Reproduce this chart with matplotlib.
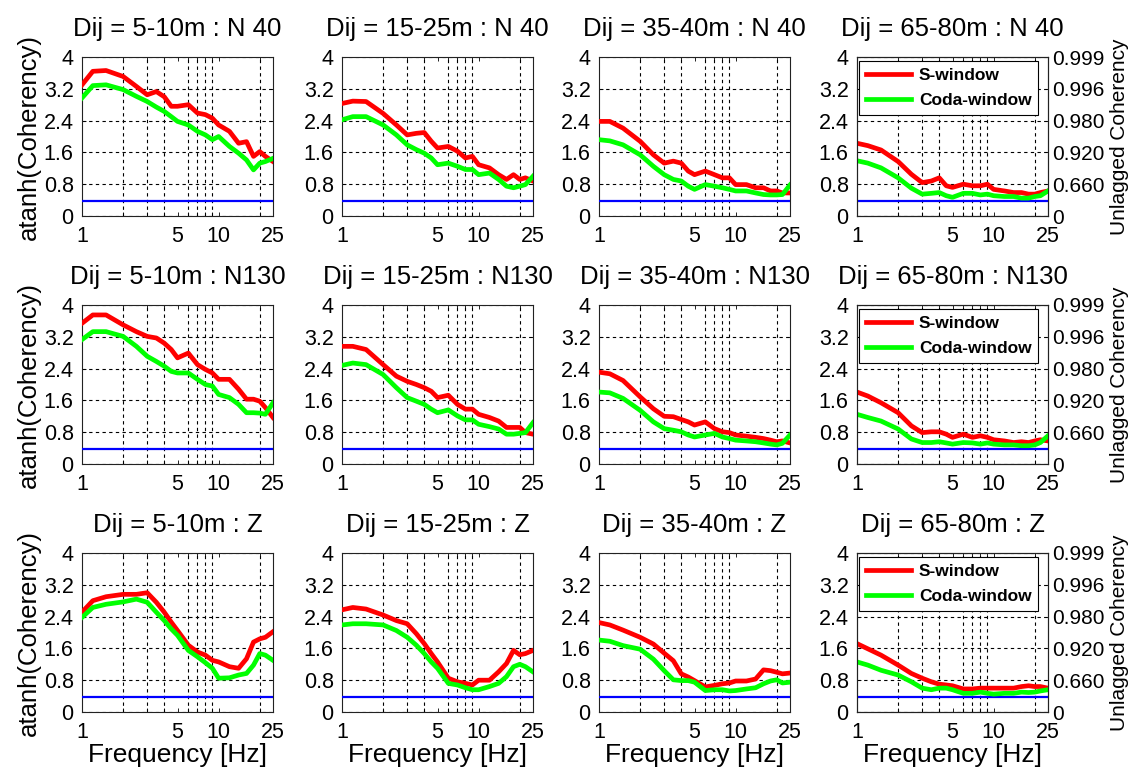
##########################################################################
import matplotlib
matplotlib.use('Agg')
import matplotlib.pyplot as plt
from matplotlib.ticker import FixedLocator, NullFormatter
import numpy as np
##########################################################################
#
#                      GENERAL
#
##########################################################################
plt.rcParams['font.family'] = ['Liberation Sans', 'DejaVu Sans']
plt.rcParams['font.size'] = 15

W, H = 1132, 777
rs   = 100

# axes boxes in pixels (left edges per column, top edges per row)
col_x = [82, 342, 599, 857]
row_y = [57, 305, 553]
ax_w, ax_h = 191, 159

# Legend, labels
legnd = ['S-window', 'Coda-window']
xn, yn, yn2 = 'Frequency [Hz]', 'atanh(Coherency)', 'Unlagged Coherency'
dist  = ['5-10m', '15-25m', '35-40m', '65-80m']
comp  = ['N 40', 'N130', 'Z']

# Axises
ymin, ymax = 0, 4
y_lim   = [0, 0.8, 1.6, 2.4, 3.2, 4]
y_lab   = ['0', '0.8', '1.6', '2.4', '3.2', '4']
y2_lab  = ['0', '0.660', '0.920', '0.980', '0.996', '0.999']
xmin, xmax = 1, 25
x_lim   = [1, 5, 10, 25]
x_lab   = ['1', '5', '10', '25']
x_minor = [2, 3, 4, 5, 6, 7, 8, 9, 10, 20]

# significance level
thr = 0.37

##########################################################################
#
#                      DATA
#
##########################################################################
freq = [1, 1.2, 1.5, 2, 2.5, 3, 3.5, 4, 4.5, 5, 6, 7, 8, 9, 10,
        12, 14, 16, 18, 20, 22, 25]

# N 40
s_n40_d1 = [3.30, 3.64, 3.66, 3.51, 3.26, 3.05, 3.13, 3.00, 2.76, 2.76, 2.80,
            2.59, 2.55, 2.46, 2.29, 2.13, 1.83, 1.87, 1.50, 1.62, 1.50, 1.37]
c_n40_d1 = [2.97, 3.28, 3.30, 3.18, 3.01, 2.88, 2.74, 2.63, 2.50, 2.38, 2.29,
            2.13, 2.04, 1.92, 2.00, 1.75, 1.58, 1.41, 1.16, 1.33, 1.37, 1.45]
s_n40_d2 = [2.83, 2.89, 2.88, 2.58, 2.29, 2.04, 2.08, 2.10, 1.88, 1.71, 1.75,
            1.63, 1.46, 1.50, 1.29, 1.21, 1.04, 0.92, 1.04, 0.92, 0.96, 0.88]
c_n40_d2 = [2.42, 2.50, 2.50, 2.29, 2.04, 1.79, 1.67, 1.58, 1.46, 1.29, 1.33,
            1.25, 1.17, 1.17, 1.04, 1.08, 0.92, 0.75, 0.71, 0.75, 0.79, 1.00]
s_n40_d3 = [2.38, 2.38, 2.21, 1.88, 1.54, 1.33, 1.38, 1.33, 1.13, 1.04, 1.13,
            1.04, 0.96, 0.96, 0.79, 0.79, 0.71, 0.71, 0.63, 0.63, 0.58, 0.58]
c_n40_d3 = [1.92, 1.89, 1.79, 1.54, 1.25, 1.04, 0.92, 0.88, 0.75, 0.67, 0.79,
            0.75, 0.71, 0.67, 0.63, 0.63, 0.58, 0.54, 0.53, 0.53, 0.54, 0.78]
s_n40_d4 = [1.83, 1.77, 1.66, 1.37, 1.05, 0.84, 0.88, 0.96, 0.76, 0.72, 0.80,
            0.76, 0.76, 0.80, 0.67, 0.63, 0.59, 0.59, 0.55, 0.55, 0.59, 0.63]
c_n40_d4 = [1.39, 1.33, 1.21, 0.96, 0.70, 0.55, 0.57, 0.59, 0.51, 0.47, 0.57,
            0.57, 0.53, 0.55, 0.51, 0.49, 0.49, 0.45, 0.45, 0.49, 0.51, 0.63]

# N130
s_n130_d1 = [3.54, 3.75, 3.75, 3.50, 3.33, 3.21, 3.17, 3.04, 2.88, 2.67, 2.79,
             2.50, 2.38, 2.29, 2.13, 2.13, 1.88, 1.63, 1.63, 1.58, 1.42, 1.17]
c_n130_d1 = [3.13, 3.33, 3.33, 3.21, 2.96, 2.71, 2.58, 2.46, 2.33, 2.29, 2.29,
             2.13, 2.00, 1.96, 1.75, 1.67, 1.50, 1.29, 1.29, 1.28, 1.25, 1.54]
s_n130_d2 = [2.96, 2.96, 2.88, 2.50, 2.21, 2.08, 2.00, 1.92, 1.83, 1.67, 1.73,
             1.50, 1.38, 1.38, 1.25, 1.17, 1.08, 0.92, 0.92, 0.92, 0.79, 0.75]
c_n130_d2 = [2.48, 2.54, 2.50, 2.25, 1.92, 1.67, 1.58, 1.50, 1.38, 1.29, 1.36,
             1.21, 1.11, 1.11, 1.00, 0.94, 0.88, 0.75, 0.75, 0.77, 0.79, 1.04]
s_n130_d3 = [2.31, 2.27, 2.10, 1.69, 1.39, 1.20, 1.19, 1.12, 1.06, 0.98, 1.06,
             0.89, 0.81, 0.79, 0.73, 0.70, 0.67, 0.64, 0.60, 0.56, 0.58, 0.53]
c_n130_d3 = [1.81, 1.79, 1.65, 1.35, 1.06, 0.89, 0.85, 0.81, 0.73, 0.68, 0.73,
             0.77, 0.68, 0.64, 0.60, 0.58, 0.56, 0.53, 0.50, 0.48, 0.52, 0.73]
s_n130_d4 = [1.81, 1.71, 1.54, 1.29, 0.96, 0.79, 0.81, 0.81, 0.75, 0.67, 0.75,
             0.67, 0.71, 0.67, 0.61, 0.58, 0.54, 0.56, 0.54, 0.58, 0.61, 0.58]
c_n130_d4 = [1.25, 1.17, 1.08, 0.88, 0.63, 0.54, 0.54, 0.56, 0.53, 0.50, 0.54,
             0.53, 0.50, 0.53, 0.50, 0.48, 0.48, 0.46, 0.46, 0.48, 0.54, 0.71]

# Z
s_z_d1 = [2.51, 2.80, 2.90, 2.96, 2.96, 3.00, 2.76, 2.51, 2.26, 2.05, 1.68,
          1.51, 1.43, 1.30, 1.26, 1.14, 1.10, 1.34, 1.76, 1.84, 1.88, 2.02]
c_z_d1 = [2.38, 2.63, 2.71, 2.77, 2.84, 2.76, 2.51, 2.30, 2.09, 1.93, 1.55,
          1.39, 1.24, 1.10, 0.85, 0.86, 0.93, 0.97, 1.18, 1.47, 1.43, 1.30]
s_z_d2 = [2.57, 2.63, 2.59, 2.44, 2.30, 2.22, 1.97, 1.72, 1.47, 1.26, 0.85,
          0.76, 0.72, 0.68, 0.80, 0.80, 1.01, 1.22, 1.55, 1.44, 1.47, 1.55]
c_z_d2 = [2.19, 2.22, 2.22, 2.19, 2.05, 1.88, 1.68, 1.47, 1.26, 1.10, 0.72,
          0.68, 0.61, 0.56, 0.56, 0.64, 0.72, 0.89, 1.14, 1.20, 1.14, 1.01]
s_z_d3 = [2.25, 2.19, 2.06, 1.88, 1.71, 1.48, 1.29, 0.96, 0.88, 0.79, 0.63,
          0.67, 0.71, 0.73, 0.78, 0.78, 0.83, 1.06, 1.04, 1.00, 0.96, 0.98]
c_z_d3 = [1.81, 1.78, 1.67, 1.58, 1.33, 1.04, 0.81, 0.79, 0.79, 0.75, 0.54,
          0.56, 0.56, 0.53, 0.54, 0.58, 0.61, 0.71, 0.78, 0.81, 0.73, 0.75]
s_z_d4 = [1.72, 1.59, 1.43, 1.18, 0.97, 0.85, 0.76, 0.70, 0.68, 0.66, 0.58,
          0.58, 0.60, 0.60, 0.60, 0.60, 0.60, 0.64, 0.66, 0.64, 0.64, 0.60]
c_z_d4 = [1.26, 1.18, 1.05, 0.93, 0.76, 0.60, 0.56, 0.60, 0.60, 0.56, 0.47,
          0.47, 0.50, 0.47, 0.45, 0.47, 0.47, 0.50, 0.49, 0.50, 0.53, 0.56]

s_win = [[s_n40_d1, s_n40_d2, s_n40_d3, s_n40_d4],
         [s_n130_d1, s_n130_d2, s_n130_d3, s_n130_d4],
         [s_z_d1, s_z_d2, s_z_d3, s_z_d4]]
c_win = [[c_n40_d1, c_n40_d2, c_n40_d3, c_n40_d4],
         [c_n130_d1, c_n130_d2, c_n130_d3, c_n130_d4],
         [c_z_d1, c_z_d2, c_z_d3, c_z_d4]]

##########################################################################
#
#                      PLOTTING
#
##########################################################################
figr = plt.figure(figsize=(W/rs, H/rs), dpi=rs)

grid_kw = dict(color='k', linestyle=(0, (3, 3)), linewidth=0.8)

for i in range(3):
    for j in range(4):
        l = col_x[j] / W
        b = 1 - (row_y[i] + ax_h) / H
        ax = figr.add_axes([l, b, ax_w / W, ax_h / H])

        ax.set_xscale('log')
        ax.set_xlim(xmin, xmax)
        ax.set_ylim(ymin, ymax)

        ax.xaxis.set_major_locator(FixedLocator(x_lim))
        ax.set_xticklabels(x_lab)
        ax.xaxis.set_minor_locator(FixedLocator(x_minor))
        ax.xaxis.set_minor_formatter(NullFormatter())
        ax.set_yticks(y_lim)
        ax.set_yticklabels(y_lab)
        ax.tick_params(which='both', direction='in', top=True,
                       right=(j != 3), length=3, width=0.6, labelsize=15.5)
        ax.tick_params(axis='x', pad=7)
        ax.tick_params(axis='y', pad=6)

        ax.grid(True, axis='y', which='major', **grid_kw)
        ax.grid(True, axis='x', which='minor', **grid_kw)
        ax.set_axisbelow(True)
        for sp in ax.spines.values():
            sp.set_linewidth(0.8)
            sp.set_color('#222222')

        # lines
        ax.axhline(y=thr, c='#0000ff', linewidth=1.6, zorder=3)
        ax.plot(freq, s_win[i][j], c='#ff0000', linewidth=3.4, label=legnd[0],
                zorder=4, solid_joinstyle='round')
        ax.plot(freq, c_win[i][j], c='#00ff00', linewidth=3.4, label=legnd[1],
                zorder=4, solid_joinstyle='round')

        ax.set_title('Dij = ' + dist[j] + ' : ' + comp[i], fontsize=18.5,
                     pad=15)
        if j == 0:
            ax.set_ylabel(yn, fontsize=18.5, labelpad=2)
        if i == 2:
            ax.set_xlabel(xn, fontsize=19, labelpad=0)

        if j == 3:
            ax2 = ax.twinx()
            ax2.set_ylim(ymin, ymax)
            ax2.set_yticks(y_lim)
            ax2.set_yticklabels(y2_lab, fontsize=15)
            ax2.tick_params(direction='in', length=3, width=0.6, pad=3)
            ax2.set_ylabel(yn2, fontsize=15, labelpad=4)
            for sp in ax2.spines.values():
                sp.set_linewidth(0.8)
                sp.set_color('#222222')
            leg = ax.legend(loc='upper left', bbox_to_anchor=(0.01, 0.975),
                            prop={'weight': 'bold', 'size': 12.5},
                            handlelength=2.6, handletextpad=0.45,
                            fancybox=False, framealpha=1, edgecolor='k',
                            borderpad=0.4, labelspacing=0.55,
                            borderaxespad=0.0)
            leg.get_frame().set_linewidth(0.8)
            leg.set_zorder(10)

##########################################################################
figr.savefig('out.png', dpi=rs)
##########################################################################
